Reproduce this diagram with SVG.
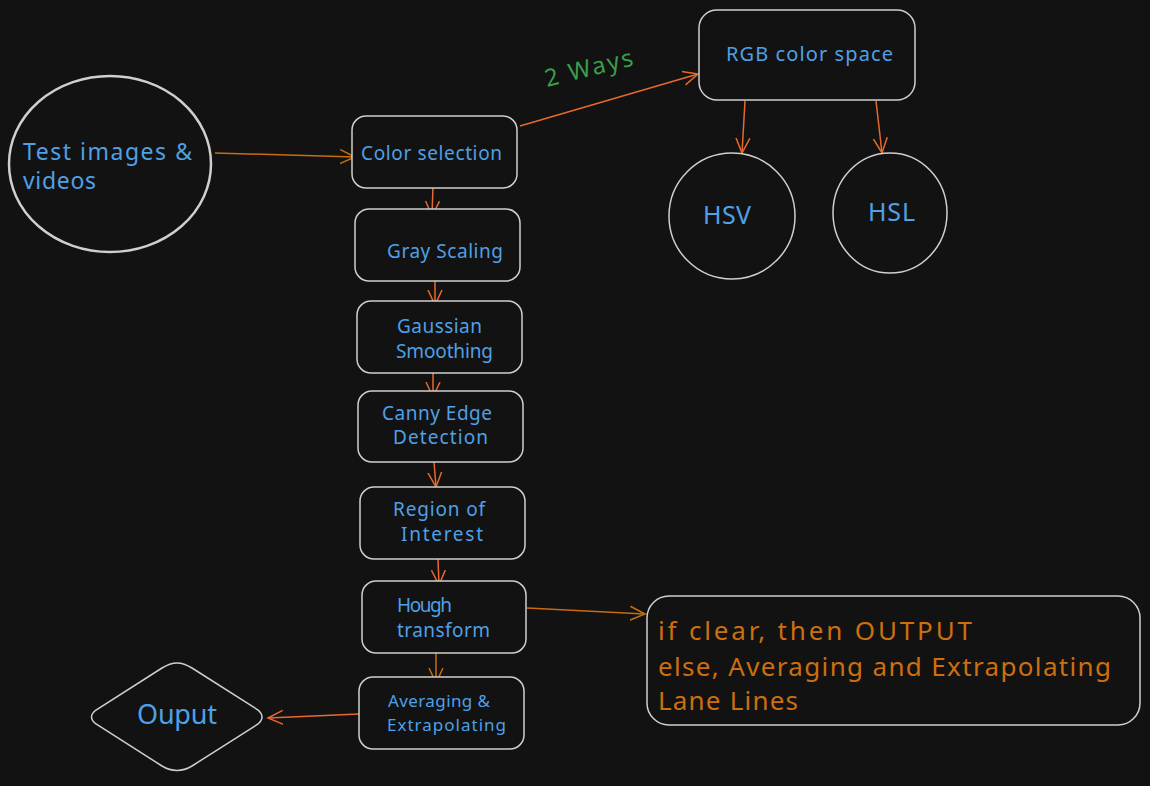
<svg xmlns="http://www.w3.org/2000/svg" width="1150" height="786" viewBox="0 0 1150 786">
<defs>
<style>
.bg{fill:#121212}
.shape{fill:#121212;stroke:#cfcfcf;stroke-width:1.5}
.thick{stroke-width:2.5}
.t{font-family:"Noto Sans","Liberation Sans",sans-serif;fill:#4fa0e6}
.o{font-family:"Noto Sans","Liberation Sans",sans-serif;fill:#cc6f0f}
.g{font-family:"Noto Sans","Liberation Sans",sans-serif;fill:#3a9d4a}
.a1{fill:none;stroke:#e8692d;stroke-width:1.5}
.a2{fill:none;stroke:#c96c10;stroke-width:1.5}
</style>
<marker id="m1" markerUnits="userSpaceOnUse" markerWidth="20" markerHeight="16" refX="15" refY="7" orient="auto" viewBox="0 0 20 14">
<path d="M0,0 L15,7 L0,14" fill="none" stroke="#e8692d" stroke-width="1.5"/>
</marker>
<marker id="m2" markerUnits="userSpaceOnUse" markerWidth="20" markerHeight="16" refX="15" refY="7" orient="auto" viewBox="0 0 20 14">
<path d="M0,0 L15,7 L0,14" fill="none" stroke="#c96c10" stroke-width="1.5"/>
</marker>
</defs>
<rect class="bg" x="0" y="0" width="1150" height="786"/>

<g id="connectors">
<path class="a2" d="M215,153 L355,157" marker-end="url(#m2)"/>
<path class="a1" d="M520,126 L698,74" marker-end="url(#m1)"/>
<path class="a1" d="M745,101 L742,153" marker-end="url(#m1)"/>
<path class="a1" d="M876,101 L882,153" marker-end="url(#m1)"/>
<path class="a1" d="M433,186 L432,216" marker-end="url(#m1)"/>
<path class="a1" d="M435,281 L435,305" marker-end="url(#m1)"/>
<path class="a1" d="M433,373 L433,397" marker-end="url(#m1)"/>
<path class="a1" d="M434,462 L436,487" marker-end="url(#m1)"/>
<path class="a1" d="M438,559 L439,585" marker-end="url(#m1)"/>
<path class="a2" d="M436,653 L436,683" marker-end="url(#m2)"/>
<path class="a2" d="M527,608 L645,614" marker-end="url(#m2)"/>
<path class="a1" d="M359,714 L268,718" marker-end="url(#m1)"/>
</g>

<g id="test-images">
<ellipse class="shape thick" cx="110" cy="164" rx="101" ry="88"/>
<text class="t" x="23" y="160" font-size="23" textLength="169">Test images &amp;</text>
<text class="t" x="23" y="189" font-size="23" textLength="73">videos</text>
</g>

<g id="color-selection">
<rect class="shape" x="352" y="116" width="165" height="72" rx="14"/>
<text class="t" x="361" y="160" font-size="19" textLength="141">Color selection</text>
</g>

<g id="rgb">
<rect class="shape" x="699" y="10" width="216" height="90" rx="18"/>
<text class="t" x="726" y="61" font-size="20" textLength="167">RGB color space</text>
</g>

<g id="two-ways">
<text class="g" x="547" y="87" font-size="24" transform="rotate(-14 547 87)" textLength="90">2 Ways</text>
</g>

<g id="hsv">
<ellipse class="shape" cx="732" cy="216" rx="63" ry="63"/>
<text class="t" x="703" y="224" font-size="25" textLength="48">HSV</text>
</g>

<g id="hsl">
<ellipse class="shape" cx="890" cy="213" rx="57" ry="60"/>
<text class="t" x="868" y="221" font-size="25" textLength="47">HSL</text>
</g>

<g id="gray-scaling">
<rect class="shape" x="355" y="209" width="165" height="72" rx="14"/>
<text class="t" x="387" y="258" font-size="19" textLength="116">Gray Scaling</text>
</g>

<g id="gaussian">
<rect class="shape" x="357" y="301" width="165" height="72" rx="14"/>
<text class="t" x="397" y="333" font-size="19" textLength="85">Gaussian</text>
<text class="t" x="396" y="358" font-size="19" textLength="97">Smoothing</text>
</g>

<g id="canny">
<rect class="shape" x="358" y="391" width="165" height="71" rx="14"/>
<text class="t" x="382" y="420" font-size="19" textLength="110">Canny Edge</text>
<text class="t" x="393" y="444" font-size="19" textLength="95">Detection</text>
</g>

<g id="roi">
<rect class="shape" x="360" y="487" width="165" height="72" rx="14"/>
<text class="t" x="393" y="516" font-size="19" textLength="92">Region of</text>
<text class="t" x="401" y="541" font-size="19" textLength="82">Interest</text>
</g>

<g id="hough">
<rect class="shape" x="362" y="581" width="164" height="72" rx="14"/>
<text class="t" x="397" y="612" font-size="19" textLength="55">Hough</text>
<text class="t" x="397" y="637" font-size="19" textLength="93">transform</text>
</g>

<g id="averaging">
<rect class="shape" x="359" y="677" width="165" height="72" rx="14"/>
<text class="t" x="388" y="707" font-size="17" textLength="102">Averaging &amp;</text>
<text class="t" x="387" y="731" font-size="17" textLength="119">Extrapolating</text>
</g>

<g id="output">
<path class="shape" d="M177,663 Q184,663 192,668 L258,710 Q266,717 258,724 L192,766 Q177,775 162,766 L96,724 Q87,717 96,710 L162,668 Q170,663 177,663 Z"/>
<text class="t" x="137" y="724" font-size="27" textLength="80">Ouput</text>
</g>

<g id="note">
<rect class="shape" x="647" y="596" width="493" height="129" rx="22"/>
<text class="o" x="658" y="640" font-size="26" textLength="314">if clear, then OUTPUT</text>
<text class="o" x="658" y="676" font-size="26" textLength="453">else, Averaging and Extrapolating</text>
<text class="o" x="658" y="710" font-size="26" textLength="140">Lane Lines</text>
</g>
</svg>
